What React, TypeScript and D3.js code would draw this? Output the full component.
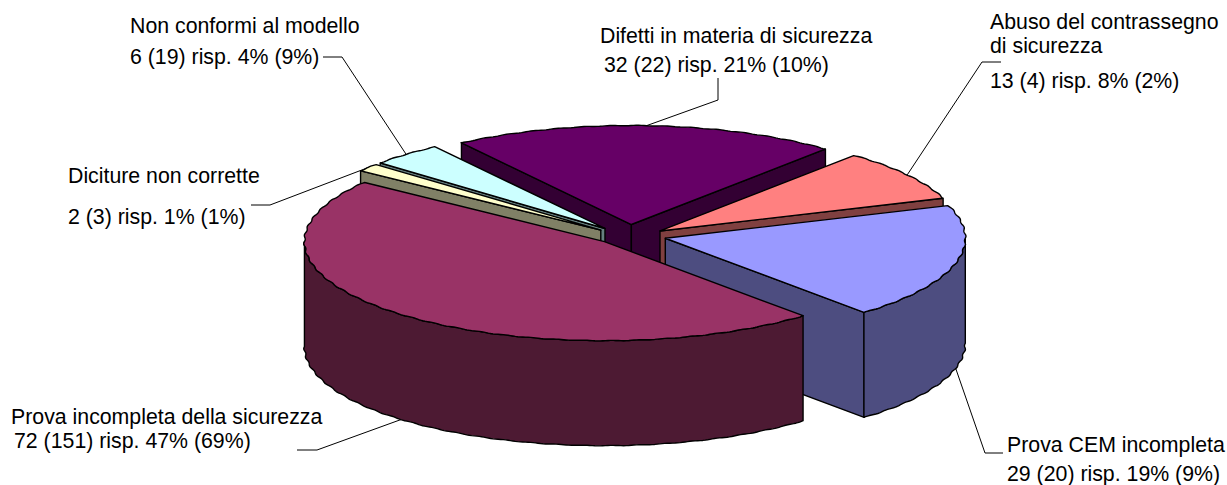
import React from "react";
import * as d3 from "d3";

// ---- data
const categories = [
  "Difetti in materia di sicurezza",
  "Abuso del contrassegno di sicurezza",
  "Prova CEM incompleta",
  "Prova incompleta della sicurezza",
  "Diciture non corrette",
  "Non conformi al modello",
];
const counts = [32, 13, 29, 72, 2, 6];
const topColors = ["#660066", "#FF8080", "#9999FF", "#993366", "#FFFFCC", "#CCFFFF"];
const sideColors = ["#330033", "#804040", "#4D4D80", "#4D1A33", "#808066", "#668080"];
const paintOrder = [0, 1, 5, 4, 2, 3];

// label text lines per slice
const labelLines = [
  ["Difetti in materia di sicurezza", "32 (22) risp. 21% (10%)"],
  ["Abuso del contrassegno", "di sicurezza", "13 (4) risp. 8% (2%)"],
  ["Prova CEM incompleta", "29 (20) risp. 19% (9%)"],
  ["Prova incompleta della sicurezza", "72 (151) risp. 47% (69%)"],
  ["Diciture non corrette", "2 (3) risp. 1% (1%)"],
  ["Non conformi al modello", "6 (19) risp. 4% (9%)"],
];

// ---- layout
const W = 1227, H = 485;
const cx = 629.5, cy = 236.5, rx = 300, ry = 99, depth = 105;
const exX = 37, exY = 7, backLift = 5;
const startDeg = -34.5;
const waveAmp = 0.0025, waveFreq = 70;

const labelPos: [number, number[]][] = [
  [600, [43, 72]],
  [990, [29, 53, 88]],
  [1007, [452, 480.5]],
  [11, [424, 448]],
  [68, [183, 224]],
  [130, [33, 64]],
];
const labelDx = [[0, 4], [0, 0, 0], [0, 0], [0, 3], [0, 0], [0, 0]];
const leaderOuter: [number, number][][] = [
  [[718, 78], [718, 100]],
  [[1001, 62], [982, 62]],
  [[1003, 453], [985, 453]],
  [[297, 450], [317, 450]],
  [[251, 205], [270, 205]],
  [[323, 57], [342, 57]],
];

const arcs = d3
  .pie<number>()
  .sort(null)
  .startAngle((startDeg * Math.PI) / 180)
  .endAngle((startDeg * Math.PI) / 180 + 2 * Math.PI)(counts);

const lineGen = d3.line<[number, number]>().curve(d3.curveLinear);

function apex(mid: number): [number, number] {
  const c = Math.cos(mid);
  return [cx + exX * Math.sin(mid), cy - exY * c - backLift * (c > 0 ? c * c : 0)];
}
function rim(o: [number, number], a: number, dy = 0, wave = true): [number, number] {
  const k = wave ? 1 + waveAmp * Math.sin(a * waveFreq) : 1;
  return [o[0] + rx * k * Math.sin(a), o[1] - ry * k * Math.cos(a) + dy];
}
function sampleAngles(a: number, b: number): number[] {
  return d3
    .range(0, 1.0001, 1 / Math.max(4, Math.ceil((Math.abs(b - a) * 180) / Math.PI) * 2))
    .map((t) => a + (b - a) * t);
}

export default function App() {
  const faces: React.ReactNode[] = [];
  paintOrder.forEach((i) => {
    const s = arcs[i];
    const a = s.startAngle, b = s.endAngle;
    const o = apex((a + b) / 2);
    const down: [number, number] = [o[0], o[1] + depth];
    const cut = (ang: number): [number, number][] => {
      const p = rim(o, ang, 0, false);
      return [o, p, [p[0], p[1] + depth], down];
    };
    const side = { fill: sideColors[i], stroke: "#000", strokeWidth: 1.4, strokeLinejoin: "round" as const };
    if (Math.sin(a) < 0) faces.push(<path key={`s${i}`} d={lineGen(cut(a)) + "Z"} {...side} />);
    if (Math.sin(b) > 0) faces.push(<path key={`e${i}`} d={lineGen(cut(b)) + "Z"} {...side} />);
    // outer wall: the part of the rim that faces the viewer (90deg to 270deg)
    const wa = Math.max(a, Math.PI / 2), wb = Math.min(b, (3 * Math.PI) / 2);
    if (wb > wa) {
      const angs = sampleAngles(wa, wb);
      const pts = [
        ...angs.map((t) => rim(o, t)),
        ...angs.slice().reverse().map((t) => rim(o, t, depth)),
      ];
      faces.push(<path key={`w${i}`} d={lineGen(pts) + "Z"} {...side} />);
    }
    const top: [number, number][] = [o, ...sampleAngles(a, b).map((t) => rim(o, t))];
    faces.push(
      <path key={`t${i}`} d={lineGen(top) + "Z"} fill={topColors[i]} stroke="#000" strokeWidth={1.4} strokeLinejoin="round" />
    );
  });

  const leaders = arcs.map((s, i) => {
    const mid = (s.startAngle + s.endAngle) / 2;
    const o = apex(mid);
    const front = Math.cos(mid) < 0;
    const anchor = rim(o, mid, front ? depth : 0, false);
    return <path key={i} d={lineGen([...leaderOuter[i], anchor]) ?? ""} fill="none" stroke="#000" strokeWidth={1} />;
  });

  return (
    <svg
      width={W}
      height={H}
      viewBox={`0 0 ${W} ${H}`}
      style={{ position: "absolute", left: 0, top: 0, background: "#fff" }}
      fontFamily="'Liberation Sans', Arial, sans-serif"
      fontSize={21.3}
    >
      {leaders}
      {faces}
      {categories.map((c, i) => (
        <g key={c}>
          {labelLines[i].map((ln, j) => (
            <text key={j} x={labelPos[i][0] + labelDx[i][j]} y={labelPos[i][1][j]} fill="#000">
              {ln}
            </text>
          ))}
        </g>
      ))}
    </svg>
  );
}
